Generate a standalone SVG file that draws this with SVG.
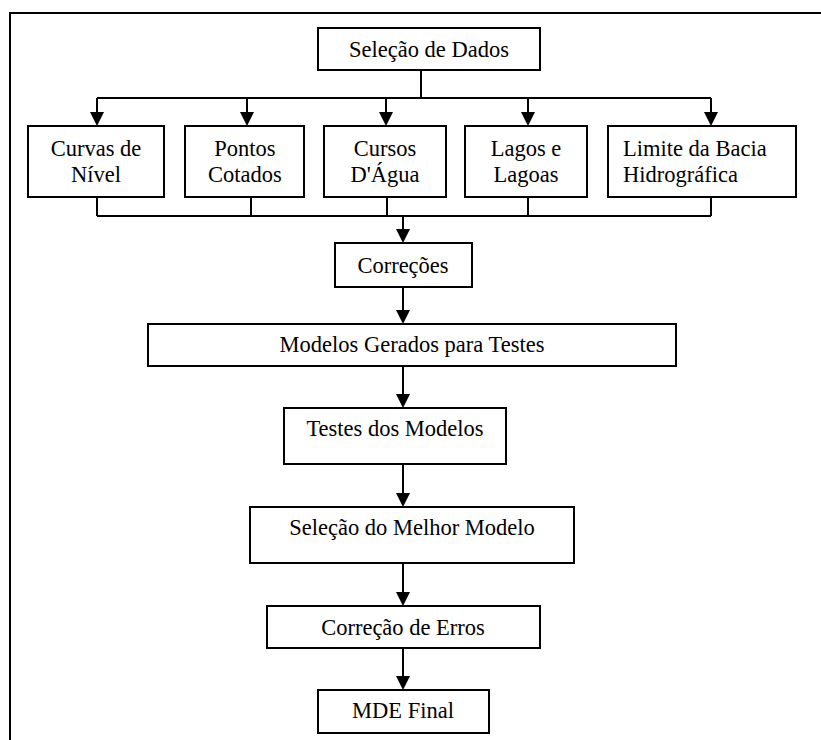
<svg xmlns="http://www.w3.org/2000/svg" width="821" height="740" viewBox="0 0 821 740">
<style>
.box{fill:#fff;stroke:#000;stroke-width:2}
.t{font-family:'Liberation Serif','Times New Roman',Tinos,'DejaVu Serif',serif;font-size:22.5px;fill:#000;text-anchor:middle}
.c{fill:none;stroke:#000;stroke-width:2}
.ah{fill:#000}
</style>
<rect width="821" height="740" fill="#fff"/>
<g id="frame"><path class="c" d="M10,740 V13 H821"/></g>
<g id="connectors">
<path class="c" d="M421,70 V98 M97,98 H711"/>
<path class="c" d="M97,98 V112"/><polygon class="ah" points="90,112 104,112 97,126"/>
<path class="c" d="M247,98 V112"/><polygon class="ah" points="240,112 254,112 247,126"/>
<path class="c" d="M386,98 V112"/><polygon class="ah" points="379,112 393,112 386,126"/>
<path class="c" d="M528,98 V112"/><polygon class="ah" points="521,112 535,112 528,126"/>
<path class="c" d="M711,98 V112"/><polygon class="ah" points="704,112 718,112 711,126"/>
<path class="c" d="M97,197 V216 M251,197 V216 M387,197 V216 M528,197 V216 M711,197 V216 M97,216 H711"/>
<path class="c" d="M403,216 V229"/><polygon class="ah" points="396,229 410,229 403,243"/>
<path class="c" d="M403,287 V310"/><polygon class="ah" points="396,310 410,310 403,324"/>
<path class="c" d="M403,366 V394"/><polygon class="ah" points="396,394 410,394 403,408"/>
<path class="c" d="M403,464 V493"/><polygon class="ah" points="396,493 410,493 403,507"/>
<path class="c" d="M403,563 V592"/><polygon class="ah" points="396,592 410,592 403,606"/>
<path class="c" d="M403,648 V676"/><polygon class="ah" points="396,676 410,676 403,690"/>
</g>
<g id="selecao-dados"><rect class="box" x="318" y="28" width="222" height="42"/><text class="t" x="429" y="57">Seleção de Dados</text></g>
<g id="curvas"><rect class="box" x="28" y="126" width="136" height="71"/><text class="t" x="96" y="156">Curvas de</text><text class="t" x="96" y="182">Nível</text></g>
<g id="pontos"><rect class="box" x="185" y="126" width="119" height="71"/><text class="t" x="245" y="156">Pontos</text><text class="t" x="245" y="182">Cotados</text></g>
<g id="cursos"><rect class="box" x="324" y="126" width="122" height="71"/><text class="t" x="385" y="156">Cursos</text><text class="t" x="385" y="182">D'Água</text></g>
<g id="lagos"><rect class="box" x="465" y="126" width="122" height="71"/><text class="t" x="526" y="156">Lagos e</text><text class="t" x="526" y="182">Lagoas</text></g>
<g id="limite"><rect class="box" x="608" y="126" width="188" height="71"/><text class="t" x="623" y="156" style="text-anchor:start">Limite da Bacia</text><text class="t" x="623" y="182" style="text-anchor:start">Hidrográfica</text></g>
<g id="correcoes"><rect class="box" x="335" y="243" width="137" height="44"/><text class="t" x="403" y="273">Correções</text></g>
<g id="modelos"><rect class="box" x="148" y="324" width="528" height="42"/><text class="t" x="412" y="352">Modelos Gerados para Testes</text></g>
<g id="testes"><rect class="box" x="284" y="408" width="222" height="56"/><text class="t" x="395" y="436">Testes dos Modelos</text></g>
<g id="selecao-melhor"><rect class="box" x="250" y="507" width="324" height="56"/><text class="t" x="412" y="535">Seleção do Melhor Modelo</text></g>
<g id="correcao-erros"><rect class="box" x="267" y="606" width="273" height="42"/><text class="t" x="403" y="635">Correção de Erros</text></g>
<g id="mde"><rect class="box" x="318" y="690" width="171" height="43"/><text class="t" x="403" y="718">MDE Final</text></g>
</svg>
